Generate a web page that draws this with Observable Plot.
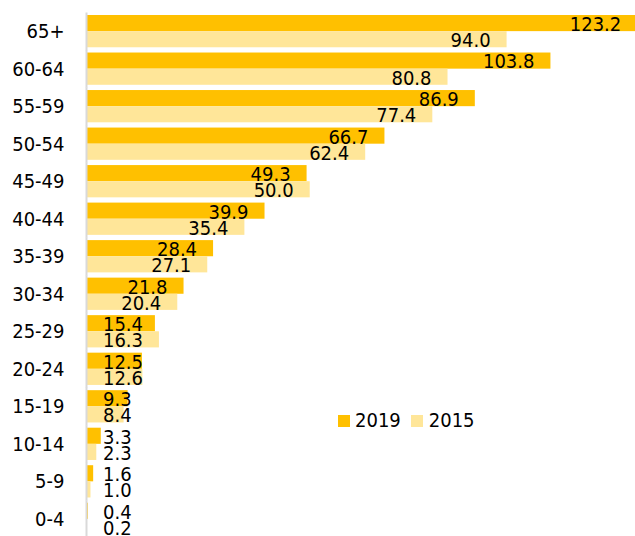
<!DOCTYPE html>
<html>
<head>
<meta charset="utf-8">
<script src="https://cdn.jsdelivr.net/npm/d3@7"></script>
<script src="https://cdn.jsdelivr.net/npm/@observablehq/plot@0.6"></script>
<style>
  body { margin: 0; background: #fff; }
  #wrap { position: relative; width: 635px; height: 536px; overflow: hidden; }
  #legend { position: absolute; left: 338px; top: 409px; display: flex; align-items: center;
            font-family: "DejaVu Sans Condensed", "DejaVu Sans", sans-serif; font-size: 20px; line-height: 23px; color: #000; }
  .sw { width: 12px; height: 12px; display: inline-block; }
</style>
</head>
<body>
<div id="wrap"></div>
<script>
const categories = ["65+","60-64","55-59","50-54","45-49","40-44","35-39","30-34","25-29","20-24","15-19","10-14","5-9","0-4"];
const series = ["2019", "2015"];
const values2019 = [123.2, 103.8, 86.9, 66.7, 49.3, 39.9, 28.4, 21.8, 15.4, 12.5, 9.3, 3.3, 1.6, 0.4];
const values2015 = [94.0, 80.8, 77.4, 62.4, 50.0, 35.4, 27.1, 20.4, 16.3, 12.6, 8.4, 2.3, 1.0, 0.2];
const colors = ["#FFC000", "#FFE699"];

const W = 635, H = 536, ML = 86, MR = 0, XMAX = 122.7;
const k = (W - ML - MR) / XMAX; // px per unit
const FS = 20, DIGIT = 0.572 * FS, DOT = 0.286 * FS;
const FONT = "DejaVu Sans Condensed, DejaVu Sans, sans-serif";

const data = [];
categories.forEach((c, i) => {
  data.push({category: c, series: "2019", value: values2019[i]});
  data.push({category: c, series: "2015", value: values2015[i]});
});
data.forEach(d => {
  d.label = d.value.toFixed(1);
  const w = (d.label.length - 1) * DIGIT + DOT;
  const minEndPx = 102.5 + w + 16.5 - ML;
  d.lx = Math.max(d.value, minEndPx / k);
});

const chart = Plot.plot({
  width: W, height: H,
  marginLeft: ML, marginRight: MR, marginTop: 15, marginBottom: 1,
  style: {fontFamily: FONT, fontSize: FS + "px", color: "#000", background: "#fff"},
  x: {domain: [0, XMAX], axis: null},
  y: {domain: series, axis: null, padding: 0, round: false},
  fy: {domain: categories, paddingInner: 0.14, paddingOuter: 0, round: false, axis: "left", label: null, tickSize: 0, tickPadding: 22},
  color: {domain: series, range: colors},
  marks: [
    Plot.barX(data, {fy: "category", y: "series", x: "value", fill: "series"}),
    Plot.ruleX([0], {stroke: "#d9d9d9", strokeWidth: 2, insetTop: -2.5, insetBottom: -3}),
    Plot.text(data, {fy: "category", y: "series", x: "lx", text: "label", textAnchor: "end", dx: -16.5, dy: 1, fill: "#000", fontSize: FS})
  ]
});
const wrap = document.getElementById("wrap");
wrap.appendChild(chart);

const legend = document.createElement("div");
legend.id = "legend";
legend.innerHTML =
  `<span class="sw" style="background:${colors[0]};margin-right:5px"></span><span style="margin-right:10px">${series[0]}</span>` +
  `<span class="sw" style="background:${colors[1]};margin-right:6px"></span><span>${series[1]}</span>`;
wrap.appendChild(legend);
</script>
</body>
</html>
